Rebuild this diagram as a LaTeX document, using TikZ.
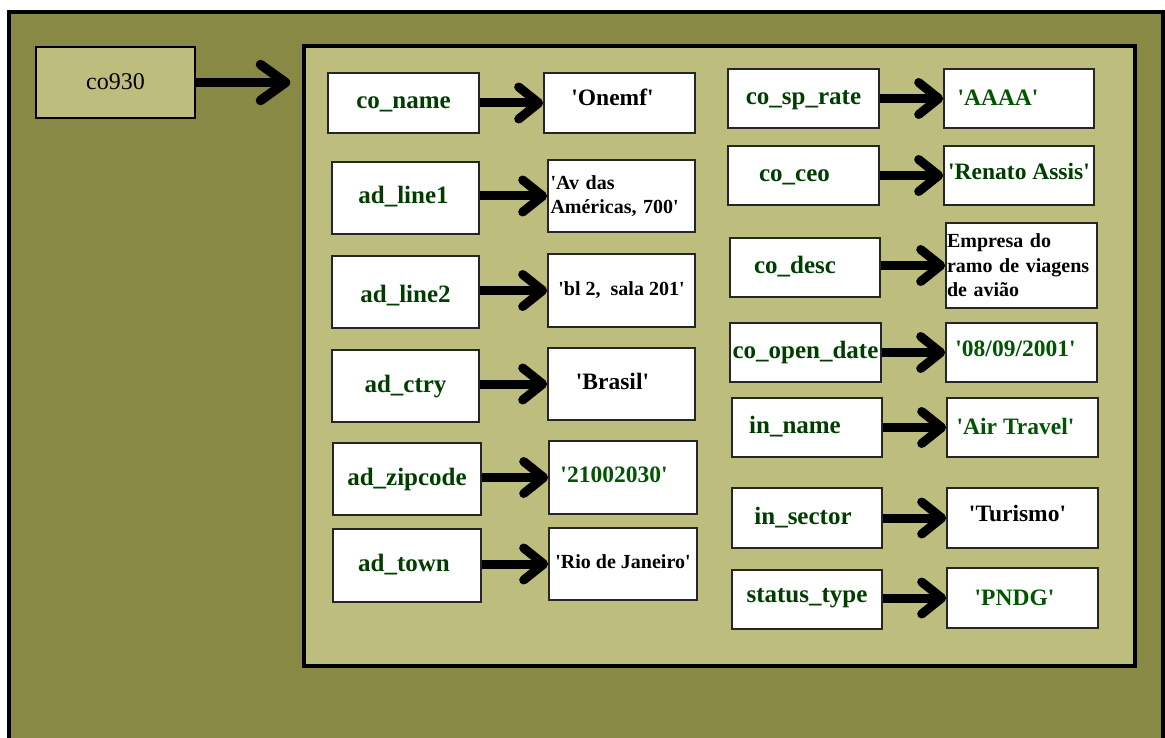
\documentclass[tikz,border=0pt]{standalone}
\usepackage{fontspec}
\setmainfont{Liberation Serif}
\usetikzlibrary{arrows.meta}
\definecolor{oliveout}{RGB}{137,137,70}
\definecolor{olivein}{RGB}{189,189,125}
\definecolor{keygreen}{RGB}{0,62,0}
\definecolor{valgreen}{RGB}{0,85,0}
\newcommand{\sq}{\textquotesingle}
\begin{document}
\begin{tikzpicture}[x=1pt,y=-1pt,
  keybox/.style={draw=black!85, line width=1.6pt, fill=white, inner sep=0pt,
    font=\fontsize{25}{28}\selectfont\bfseries, text=keygreen, text height=16pt, text depth=4pt},
  valbox/.style={draw=black!85, line width=1.6pt, fill=white, inner sep=0pt,
    font=\fontsize{23.5}{26}\selectfont\bfseries, text=black, text height=17pt, text depth=3pt},
  smallval/.style={draw=black!85, line width=1.6pt, fill=white, inner sep=0pt,
    font=\fontsize{20}{24.5}\selectfont\bfseries, text=black, align=left},
  conn/.style={line width=9pt, -{Straight Barb[length=20pt,width=32pt,round]}},
  bigconn/.style={line width=9.5pt, -{Straight Barb[length=25pt,width=36pt,round]}},
]
\useasboundingbox (0,0) rectangle (1165,738);
\clip (0,0) rectangle (1165,738);
% outer frame
\draw[line width=4pt, fill=oliveout] (9,12) rectangle (1163,770);
% inner panel
\node[draw=black, line width=3.5pt, fill=olivein, minimum width=831pt, minimum height=620pt, inner sep=0pt] (panel) at (719.5,356) {};
% object box
\node[draw=black, line width=2pt, fill=olivein, minimum width=159pt, minimum height=71pt, inner sep=0pt,
  font=\fontsize{24}{28}\selectfont] (co) at (115.5,82.5) {\raisebox{2pt}{co930}};
\draw[bigconn] (co.east) -- ([xshift=-12pt]co.east -| panel.west);

% left keys
\node[keybox, minimum width=151pt, minimum height=60pt] (k1) at (403.5,103) {co\_name};
\node[keybox, minimum width=147pt, minimum height=72pt] (k2) at (405.5,198) {ad\_line1\kern4pt};
\node[keybox, minimum width=147pt, minimum height=72pt] (k3) at (405.5,292) {\raisebox{-5pt}{ad\_line2}};
\node[keybox, minimum width=147pt, minimum height=72pt] (k4) at (405.5,386) {ad\_ctry};
\node[keybox, minimum width=148pt, minimum height=72pt] (k5) at (407,479) {ad\_zipcode};
\node[keybox, minimum width=148pt, minimum height=73pt] (k6) at (407,565.5) {ad\_town\kern6pt};
% left values
\node[valbox, minimum width=151pt, minimum height=60pt] (v1) at (619.5,103) {\raisebox{4pt}{\sq Onemf\sq}\kern14pt};
\node[smallval, minimum width=147pt, minimum height=72pt, text width=142pt] (v2) at (621.5,196) {\sq Av das\\Américas, 700\sq};
\node[smallval, minimum width=147pt, minimum height=73pt] (v3) at (621.5,290.5) {\raisebox{4pt}{\sq bl 2,\ \ sala 201\sq}};
\node[valbox, minimum width=147pt, minimum height=72pt] (v4) at (621.5,384) {\raisebox{2pt}{\sq Brasil\sq}\kern18pt};
\node[valbox, minimum width=148pt, minimum height=73pt, text=valgreen] (v5) at (623,477.5) {\raisebox{2pt}{\sq 21002030\sq}\kern18pt};
\node[smallval, minimum width=148pt, minimum height=72pt] (v6) at (623,564) {\raisebox{4pt}{\sq Rio de Janeiro\sq}};
% right keys
\node[keybox, minimum width=151pt, minimum height=59pt] (k7) at (803.5,98.5) {co\_sp\_rate};
\node[keybox, minimum width=151pt, minimum height=59pt] (k8) at (803.5,175.5) {co\_ceo\kern18pt};
\node[keybox, minimum width=150pt, minimum height=59pt] (k9) at (805,267.5) {co\_desc\kern20pt};
\node[keybox, minimum width=151pt, minimum height=59pt] (k10) at (805.5,352.5) {co\_open\_date};
\node[keybox, minimum width=150pt, minimum height=59pt] (k11) at (807,427.5) {in\_name\kern24pt};
\node[keybox, minimum width=150pt, minimum height=60pt] (k12) at (807,518) {in\_sector\kern8pt};
\node[keybox, minimum width=150pt, minimum height=59pt] (k13) at (807,599.5) {\raisebox{3pt}{status\_type}};
% right values
\node[valbox, minimum width=150pt, minimum height=59pt, text=valgreen] (v7) at (1019,98.5) {\sq AAAA\sq\kern42pt};
\node[valbox, minimum width=150pt, minimum height=59pt, text=keygreen] (v8) at (1019,175.5) {\raisebox{3pt}{\sq Renato Assis\sq}};
\node[smallval, minimum width=151pt, minimum height=85pt, text width=149pt] (v9) at (1021.5,265.5) {Empresa do\\ramo de viagens\\de avião};
\node[valbox, minimum width=151pt, minimum height=59pt, text=valgreen] (v10) at (1021.5,352.5) {\raisebox{3pt}{\sq 08/09/2001\sq}\kern12pt};
\node[valbox, minimum width=151pt, minimum height=59pt, text=valgreen] (v11) at (1022.5,427.5) {\sq Air Travel\sq\kern14pt};
\node[valbox, minimum width=151pt, minimum height=60pt] (v12) at (1022.5,518) {\raisebox{4pt}{\sq Turismo\sq}\kern10pt};
\node[valbox, minimum width=151pt, minimum height=60pt, text=valgreen] (v13) at (1022.5,598) {\sq PNDG\sq\kern16pt};

% connectors
\foreach \i in {1,...,13}{
  \draw[conn] (v\i.west -| k\i.east) -- (v\i.west);
}
\end{tikzpicture}
\end{document}
